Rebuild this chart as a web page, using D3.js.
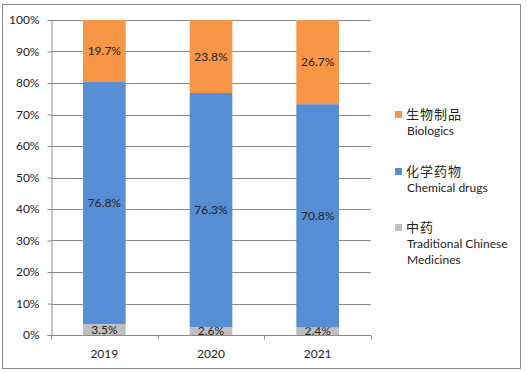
<!DOCTYPE html>
<html>
<head>
<meta charset="utf-8">
<script src="https://cdn.jsdelivr.net/npm/d3@7"></script>
<style>
  body { margin: 0; background: #fff; }
  text { font-family: Lato, "Open Sans", "Noto Sans CJK SC", sans-serif; fill: #222; }
</style>
</head>
<body>
<div id="chart"></div>
<script>
const years = ["2019", "2020", "2021"];
const tcm = [3.5, 2.6, 2.4];
const chemical = [76.8, 76.3, 70.8];
const biologics = [19.7, 23.8, 26.7];
const yTicks = [0, 10, 20, 30, 40, 50, 60, 70, 80, 90, 100];

const seriesNames = [
  { key: "tcm", zh: "中药", en: ["Traditional Chinese", "Medicines"], color: "#bfbfbf" },
  { key: "chemical", zh: "化学药物", en: ["Chemical drugs"], color: "#558ed5" },
  { key: "biologics", zh: "生物制品", en: ["Biologics"], color: "#f79646" }
];

const width = 527, height = 373;
const margin = { left: 51, right: 156, top: 20, bottom: 38 };

const rows = years.map((y, i) => ({ year: y, tcm: tcm[i], chemical: chemical[i], biologics: biologics[i] }));
// 100% stacked: each column normalised to its own total
const stack = d3.stack().keys(seriesNames.map(s => s.key)).offset(d3.stackOffsetExpand);
const stacked = stack(rows);

const svg = d3.select("#chart")
  .append("svg")
  .attr("width", width)
  .attr("height", height);

// outer border
svg.append("rect")
  .attr("x", 2.5).attr("y", 4.5)
  .attr("width", 518).attr("height", 364)
  .attr("fill", "none")
  .attr("stroke", "#8c8c8c");

const x = d3.scaleBand()
  .domain(years)
  .range([margin.left, width - margin.right])
  .paddingInner(0.6)
  .paddingOuter(0.3);

const y = d3.scaleLinear()
  .domain([0, 1])
  .range([height - margin.bottom, margin.top]);

// gridlines
svg.append("g")
  .selectAll("line")
  .data(yTicks.filter(t => t > 0))
  .join("line")
  .attr("x1", margin.left)
  .attr("x2", width - margin.right)
  .attr("y1", d => Math.round(y(d / 100)) + 0.5)
  .attr("y2", d => Math.round(y(d / 100)) + 0.5)
  .attr("stroke", "#8a8a8a");

// bars
const layers = svg.append("g")
  .selectAll("g")
  .data(stacked)
  .join("g")
  .attr("fill", (d, i) => seriesNames[i].color);

layers.selectAll("rect")
  .data(d => d)
  .join("rect")
  .attr("x", d => x(d.data.year))
  .attr("width", x.bandwidth())
  .attr("y", d => y(d[1]))
  .attr("height", d => y(d[0]) - y(d[1]));

// data labels
layers.selectAll("text")
  .data(function(d) { return d.map(p => ({ p, key: d.key })); })
  .join("text")
  .attr("x", d => x(d.p.data.year) + x.bandwidth() / 2)
  .attr("y", d => y((d.p[0] + d.p[1]) / 2))
  .attr("dy", "0.35em")
  .attr("text-anchor", "middle")
  .attr("font-size", 12)
  .text(d => d.p.data[d.key].toFixed(1) + "%");

// y axis
const yAxis = svg.append("g")
  .attr("transform", `translate(${margin.left + 0.5},0)`)
  .call(d3.axisLeft(y).tickValues(yTicks.map(t => t / 100)).tickFormat(d3.format(".0%")).tickSizeOuter(0).tickSize(4).tickPadding(8));
yAxis.selectAll("path, line").attr("stroke", "#8a8a8a");
yAxis.selectAll("text").attr("font-size", 12).attr("font-family", null);

// x axis
const xOuter = d3.scalePoint().domain(d3.range(years.length + 1)).range([margin.left, width - margin.right]);
const xAxisG = svg.append("g")
  .attr("transform", `translate(0,${y(0) + 0.5})`);
xAxisG.append("line")
  .attr("x1", margin.left).attr("x2", width - margin.right)
  .attr("stroke", "#8a8a8a");
xAxisG.selectAll(".tick")
  .data(xOuter.domain())
  .join("line")
  .attr("x1", d => Math.round(xOuter(d)) + 0.5)
  .attr("x2", d => Math.round(xOuter(d)) + 0.5)
  .attr("y1", 0).attr("y2", 4)
  .attr("stroke", "#8a8a8a");
xAxisG.selectAll("text")
  .data(years)
  .join("text")
  .attr("x", d => x(d) + x.bandwidth() / 2)
  .attr("y", 18)
  .attr("dy", "0.35em")
  .attr("text-anchor", "middle")
  .attr("font-size", 12)
  .text(d => d);

// legend
const legendItems = seriesNames.slice().reverse();
const legendY = [114, 171, 227];
const legend = svg.append("g")
  .selectAll("g")
  .data(legendItems)
  .join("g")
  .attr("transform", (d, i) => `translate(395,${legendY[i]})`);

legend.append("rect")
  .attr("x", 0).attr("y", -3)
  .attr("width", 7).attr("height", 7)
  .attr("fill", d => d.color);

legend.append("text")
  .attr("x", 11)
  .attr("dy", "0.4em")
  .attr("font-size", 13)
  .attr("font-family", "'Noto Sans CJK SC', sans-serif")
  .attr("letter-spacing", 1)
  .text(d => d.zh);

legend.each(function(d) {
  const g = d3.select(this);
  d.en.forEach((line, j) => {
    g.append("text")
      .attr("x", 12)
      .attr("y", 17 + j * 16)
      .attr("dy", "0.35em")
      .attr("font-size", 12)
      .text(line);
  });
});
</script>
</body>
</html>
